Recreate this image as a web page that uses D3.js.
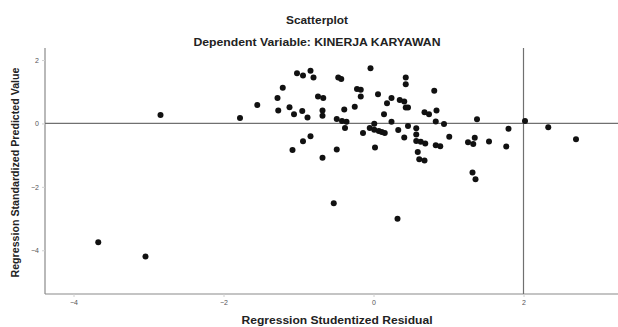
<!DOCTYPE html>
<html><head><meta charset="utf-8">
<script src="https://cdn.jsdelivr.net/npm/d3@7"></script>
<style>body{margin:0;background:#fff}svg{display:block}</style>
</head><body><svg id="c" width="618" height="327"></svg>
<script>
const title = "Scatterplot";
const subtitle = "Dependent Variable: KINERJA KARYAWAN";
const xTitle = "Regression Studentized Residual";
const yTitle = "Regression Standardized Predicted Value";
const xTicks = [-4, -2, 0, 2];
const yTicks = [2, 0, -2, -4];
const refX = 2, refY = 0;
const residual = [-2.84,-1.78,-3.67,-3.04,-0.53,0.32,-1.55,-1.28,-1.21,-1.02,-0.94,-0.84,-0.80,-1.12,-0.74,-0.67,-0.47,-0.43,-0.39,-0.25,-0.22,-0.17,-0.17,-0.04,0.06,0.18,0.24,0.35,0.41,0.43,0.46,0.43,0.43,0.81,-1.27,-1.06,-0.95,-0.88,-0.68,-0.68,-0.49,-0.42,-0.36,-0.38,0.14,0.24,0.68,0.74,0.84,0.83,0.94,0.01,-0.05,0.01,0.07,0.11,0.15,-0.14,0.33,0.46,0.57,0.57,0.41,0.57,0.63,0.69,0.83,0.89,1.01,1.26,-0.84,-0.94,-1.08,-0.68,-0.49,0.02,0.59,0.61,0.68,1.38,1.80,2.02,2.33,2.70,1.33,1.35,1.54,1.77,1.32,1.36];
const predicted = [0.27,0.17,-3.75,-4.20,-2.52,-3.01,0.58,0.80,1.13,1.58,1.51,1.66,1.45,0.51,0.85,0.80,1.45,1.40,0.44,0.53,1.09,1.06,0.85,1.74,0.92,0.64,0.80,0.74,0.69,0.50,0.50,1.45,1.24,1.03,0.41,0.29,0.39,0.19,0.41,0.24,0.14,0.08,0.05,-0.14,0.29,0.05,0.35,0.29,0.41,0.06,-0.02,-0.01,-0.14,-0.20,-0.24,-0.27,-0.30,-0.30,-0.21,-0.08,-0.15,-0.35,-0.44,-0.55,-0.58,-0.63,-0.69,-0.72,-0.42,-0.59,-0.40,-0.56,-0.84,-1.08,-0.82,-0.76,-0.90,-1.13,-1.17,0.13,-0.17,0.08,-0.12,-0.50,-0.65,-0.45,-0.57,-0.73,-1.55,-1.76];

const svg = d3.select("#c");
const x = d3.scaleLinear().domain([-4.38, 3.26]).range([45, 618]);
const y = d3.scaleLinear().domain([-5.38, 2.38]).range([294, 48]);
const font = "'Liberation Sans', Arial, sans-serif";

// axes
const xAxis = svg.append("g").attr("transform", "translate(0,294)")
  .call(d3.axisBottom(x).tickValues(xTicks).tickSize(3).tickFormat(d3.format("d")).tickPadding(3));
const yAxis = svg.append("g").attr("transform", "translate(45,0)")
  .call(d3.axisLeft(y).tickValues(yTicks).tickSize(3).tickFormat(d3.format("d")).tickPadding(3));
[xAxis, yAxis].forEach(a => {
  a.select(".domain").attr("stroke", "#8a8a8a").attr("stroke-width", 1.2);
  a.selectAll(".tick line").attr("stroke", "#d0d0d0");
  a.selectAll(".tick text").attr("fill", "#555").style("font-family", font).style("font-size", "7px");
});
xAxis.select(".domain").attr("d", `M45,0H618`);
yAxis.select(".domain").attr("d", `M0,48V294`);

// reference lines
svg.append("line").attr("x1", x(refX)).attr("x2", x(refX)).attr("y1", 48).attr("y2", 294)
  .attr("stroke", "#707070").attr("stroke-width", 1.2);
svg.append("line").attr("x1", 45).attr("x2", 618).attr("y1", y(refY)).attr("y2", y(refY))
  .attr("stroke", "#707070").attr("stroke-width", 1.2);

// points
svg.append("g").selectAll("circle").data(residual.map((r, i) => [r, predicted[i]]))
  .join("circle").attr("cx", d => x(d[0])).attr("cy", d => y(d[1])).attr("r", 3)
  .attr("fill", "#111");

// titles
const t = (txt, cx, cy, len, size) => svg.append("text").text(txt)
  .attr("x", cx).attr("y", cy).attr("text-anchor", "middle")
  .attr("textLength", len).attr("lengthAdjust", "spacingAndGlyphs")
  .style("font-family", font).style("font-weight", "bold").style("font-size", size + "px").attr("fill", "#222");
t(title, 317, 24, 62, 10.5);
t(subtitle, 317, 45.5, 247, 10.5);
t(xTitle, 337, 324, 191, 10.5);
svg.append("text").text(yTitle)
  .attr("transform", "translate(19,172.5) rotate(-90)").attr("text-anchor", "middle")
  .attr("textLength", 210).attr("lengthAdjust", "spacingAndGlyphs")
  .style("font-family", font).style("font-weight", "bold").style("font-size", "10.5px").attr("fill", "#222");
</script></body></html>
